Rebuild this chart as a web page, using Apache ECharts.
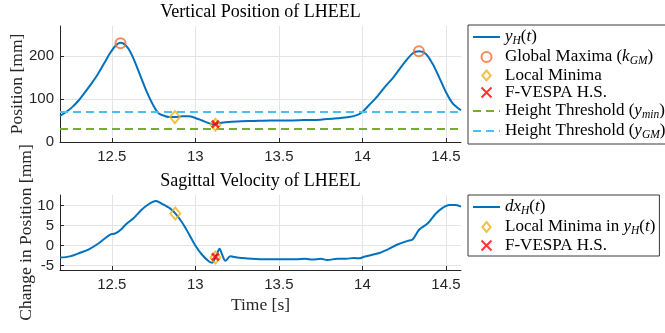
<!DOCTYPE html>
<html>
<head>
<meta charset="utf-8">
<script src="https://cdn.jsdelivr.net/npm/echarts@6/dist/echarts.min.js"></script>
<style>html,body{margin:0;padding:0;background:#fff}#c{width:665px;height:333px}</style>
</head>
<body>
<div id="c"></div>
<script>
// ---- Data ----
const X_MIN = 12.19, X_MAX = 14.59;
const xTicks = [12.5, 13, 13.5, 14, 14.5];
const yTopTicks = [0, 100, 200];
const yBotTicks = [-5, 0, 5, 10];

// Vertical position of LHEEL y_H(t) [mm]
const tPos = [12.19,12.22,12.26,12.30,12.34,12.38,12.42,12.46,12.49,12.52,12.55,12.57,12.60,12.63,12.67,12.71,12.75,12.78,12.82,12.85,12.88,12.92,12.96,13.00,13.04,13.08,13.11,13.14,13.18,13.25,13.35,13.45,13.55,13.65,13.75,13.85,13.92,13.97,14.00,14.04,14.08,14.13,14.19,14.25,14.30,14.34,14.38,14.42,14.46,14.50,14.54,14.59];
const yPos = [61,68,80,96,116,137,160,187,207,223,231,229,217,194,155,116,84,67,60,58,58,60,60,56,50,44,41,44,46,48,49,50,50,51,52,55,58,63,70,86,102,126,153,184,206,211,205,182,150,116,90,74];

// Markers on position plot
const gmT = [12.552, 14.338], gmY = [230, 211];
const lmT = [12.878, 13.12], lmY = [58, 40];
const fvT = [13.12], fvY = [41.5];
const yMinThr = 30, yGmThr = 70;

// Sagittal velocity dx_H(t)
const tVel = [12.19,12.25,12.31,12.36,12.42,12.46,12.49,12.52,12.55,12.59,12.63,12.68,12.72,12.745,12.765,12.80,12.85,12.88,12.92,12.96,13.00,13.04,13.08,13.10,13.125,13.145,13.16,13.18,13.21,13.25,13.30,13.40,13.50,13.60,13.66,13.70,13.75,13.79,13.85,13.90,13.95,13.98,14.01,14.09,14.15,14.21,14.27,14.30,14.34,14.39,14.44,14.48,14.52,14.56,14.59];
const vVel = [-3.0,-2.7,-1.8,-1.0,0.5,1.8,2.7,3.0,3.8,5.5,6.8,9.0,10.3,10.9,11.1,10.4,9.2,8.0,5.8,3.0,0.0,-2.3,-3.9,-4.3,-2.5,-0.8,-2.2,-3.8,-2.7,-3.0,-3.2,-3.4,-3.4,-3.4,-3.3,-3.5,-3.3,-3.6,-3.3,-3.3,-3.1,-3.2,-2.8,-2.0,-1.0,0.25,1.15,1.5,4.0,5.5,8.0,9.4,10.1,10.1,9.7];

const lm2T = [12.88, 13.12], lm2Y = [8.0, -3.0];
const fv2T = [13.12], fv2Y = [-2.8];

// ---- Build chart ----
const pairs = (a, b) => a.map((v, i) => [v, b[i]]);
const AX = '#262626', GRID = '#e4e4e4';
const BLUE = '#0072BD', ORANGE = '#F26B30', YEL = '#EDB120', RED = '#FF0000', GREEN = '#77AC30', CYAN = '#4DBEEE';
const SERIF = 'Liberation Serif', SANS = 'Liberation Sans';
const XPATH = 'path://M0,0L10,10M10,0L0,10';
const DPATH = 'path://M5,0L10,6L5,12L0,6Z';

function xAxis(gi, withName) {
  return {
    gridIndex: gi, type: 'value', min: X_MIN, max: X_MAX,
    name: withName ? 'Time [s]' : '', nameLocation: 'middle', nameGap: 26, nameMoveOverlap: false,
    nameTextStyle: {fontFamily: SERIF, fontSize: 17.5, color: AX},
    axisLine: {show: true, onZero: false, lineStyle: {color: AX, width: 1}},
    axisTick: {show: true, inside: true, length: 4, customValues: xTicks, lineStyle: {color: AX}},
    axisLabel: {customValues: xTicks, margin: 7, fontFamily: SANS, fontSize: 15, color: AX},
    splitLine: {show: true, lineStyle: {color: GRID, width: 1}}
  };
}
function yAxis(gi, min, max, ticks, name, gap) {
  return {
    gridIndex: gi, type: 'value', min: min, max: max,
    name: name, nameLocation: 'middle', nameGap: gap, nameMoveOverlap: false,
    nameTextStyle: {fontFamily: SERIF, fontSize: 17.5, color: AX},
    axisLine: {show: true, onZero: false, lineStyle: {color: AX, width: 1}},
    axisTick: {show: true, inside: true, length: 4, customValues: ticks, lineStyle: {color: AX}},
    axisLabel: {customValues: ticks, margin: 6, fontFamily: SANS, fontSize: 15, color: AX},
    splitLine: {show: true, lineStyle: {color: GRID, width: 1}}
  };
}

const legendText = {
  yH: '{i|y}{s|H}{r|(}{i|t}{r|)}',
  gm: '{r|Global Maxima (}{i|k}{s|GM}{r|)}',
  lm: '{r|Local Minima}',
  fv: '{r|F-VESPA H.S.}',
  tmin: '{r|Height Threshold (}{i|y}{s|min}{r|)}',
  tgm: '{r|Height Threshold (}{i|y}{s|GM}{r|)}',
  dxH: '{i|dx}{s|H}{r|(}{i|t}{r|)}',
  lm2: '{r|Local Minima in }{i|y}{s|H}{r|(}{i|t}{r|)}',
  fv2: '{r|F-VESPA H.S.}'
};
const rich = {
  r: {fontFamily: SERIF, fontSize: 17, color: '#000', lineHeight: 19},
  i: {fontFamily: SERIF, fontSize: 17, fontStyle: 'italic', color: '#000', lineHeight: 19},
  s: {fontFamily: SERIF, fontSize: 11.5, fontStyle: 'italic', color: '#000', lineHeight: 11, padding: [8, 0, 0, 0]}
};
const lineItem = n => ({name: n, itemStyle: {opacity: 0}});
function legend(items, left, top, pad) {
  return {
    data: items, orient: 'vertical', left: left, top: top, padding: pad,
    itemGap: 0, itemWidth: 27, itemHeight: 10, selectedMode: false,
    borderColor: '#3a3a3a', borderWidth: 1, backgroundColor: '#fff',
    formatter: n => legendText[n],
    textStyle: {fontFamily: SERIF, fontSize: 17, color: '#000', rich: rich}
  };
}
const hollow = (c, w) => ({color: 'rgba(0,0,0,0)', borderColor: c, borderWidth: w});

const option = {
  animation: false,
  backgroundColor: '#fff',
  graphic: [
    {type: 'text', x: 260.5, y: 12, style: {text: 'Vertical Position of LHEEL', align: 'center', verticalAlign: 'middle', font: '18px "Liberation Serif"', fill: '#000'}},
    {type: 'text', x: 260.5, y: 181, style: {text: 'Sagittal Velocity of LHEEL', align: 'center', verticalAlign: 'middle', font: '18px "Liberation Serif"', fill: '#000'}}
  ],
  grid: [
    {left: 60, top: 26, width: 401, height: 116, containLabel: false},
    {left: 60, top: 195, width: 401, height: 75, containLabel: false}
  ],
  xAxis: [xAxis(0, false), xAxis(1, true)],
  yAxis: [
    yAxis(0, 0, 270, yTopTicks, 'Position [mm]', 34),
    yAxis(1, -6.1, 12.6, yBotTicks, 'Change in Position [mm]', 25)
  ],
  legend: [
    legend([lineItem('yH'), 'gm', 'lm', 'fv', lineItem('tmin'), lineItem('tgm')], 468, 25, [2, 4, 3, 4]),
    legend([lineItem('dxH'), 'lm2', 'fv2'], 468, 195, [2, 4, 2, 4])
  ],
  series: [
    {name: 'yH', type: 'line', xAxisIndex: 0, yAxisIndex: 0, data: pairs(tPos, yPos), symbol: 'none', smooth: 0.3, lineStyle: {color: BLUE, width: 2}, itemStyle: {color: BLUE}, z: 2},
    {name: 'tmin', type: 'line', xAxisIndex: 0, yAxisIndex: 0, data: [[X_MIN, yMinThr], [X_MAX, yMinThr]], symbol: 'none', lineStyle: {color: GREEN, width: 2, type: [8, 5]}, itemStyle: {color: GREEN}, z: 3},
    {name: 'tgm', type: 'line', xAxisIndex: 0, yAxisIndex: 0, data: [[X_MIN, yGmThr], [X_MAX, yGmThr]], symbol: 'none', lineStyle: {color: CYAN, width: 2, type: [8, 5]}, itemStyle: {color: CYAN}, z: 3},
    {name: 'gm', type: 'scatter', xAxisIndex: 0, yAxisIndex: 0, data: pairs(gmT, gmY), symbol: 'circle', symbolSize: 10, itemStyle: hollow(ORANGE, 2), z: 4},
    {name: 'lm', type: 'scatter', xAxisIndex: 0, yAxisIndex: 0, data: pairs(lmT, lmY), symbol: DPATH, symbolSize: [10, 12], itemStyle: hollow(YEL, 2), z: 4},
    {name: 'fv', type: 'scatter', xAxisIndex: 0, yAxisIndex: 0, data: pairs(fvT, fvY), symbol: XPATH, symbolSize: 7, itemStyle: {color: RED, borderColor: RED, borderWidth: 2.5}, z: 5},
    {name: 'dxH', type: 'line', xAxisIndex: 1, yAxisIndex: 1, data: pairs(tVel, vVel), symbol: 'none', smooth: 0.3, lineStyle: {color: BLUE, width: 2}, itemStyle: {color: BLUE}, z: 2},
    {name: 'lm2', type: 'scatter', xAxisIndex: 1, yAxisIndex: 1, data: pairs(lm2T, lm2Y), symbol: DPATH, symbolSize: [10, 12], itemStyle: hollow(YEL, 2), z: 4},
    {name: 'fv2', type: 'scatter', xAxisIndex: 1, yAxisIndex: 1, data: pairs(fv2T, fv2Y), symbol: XPATH, symbolSize: 7, itemStyle: {color: RED, borderColor: RED, borderWidth: 2.5}, z: 5}
  ]
};
const chart = echarts.init(document.getElementById('c'), null, {renderer: 'canvas'});
chart.setOption(option);
</script>
</body>
</html>
